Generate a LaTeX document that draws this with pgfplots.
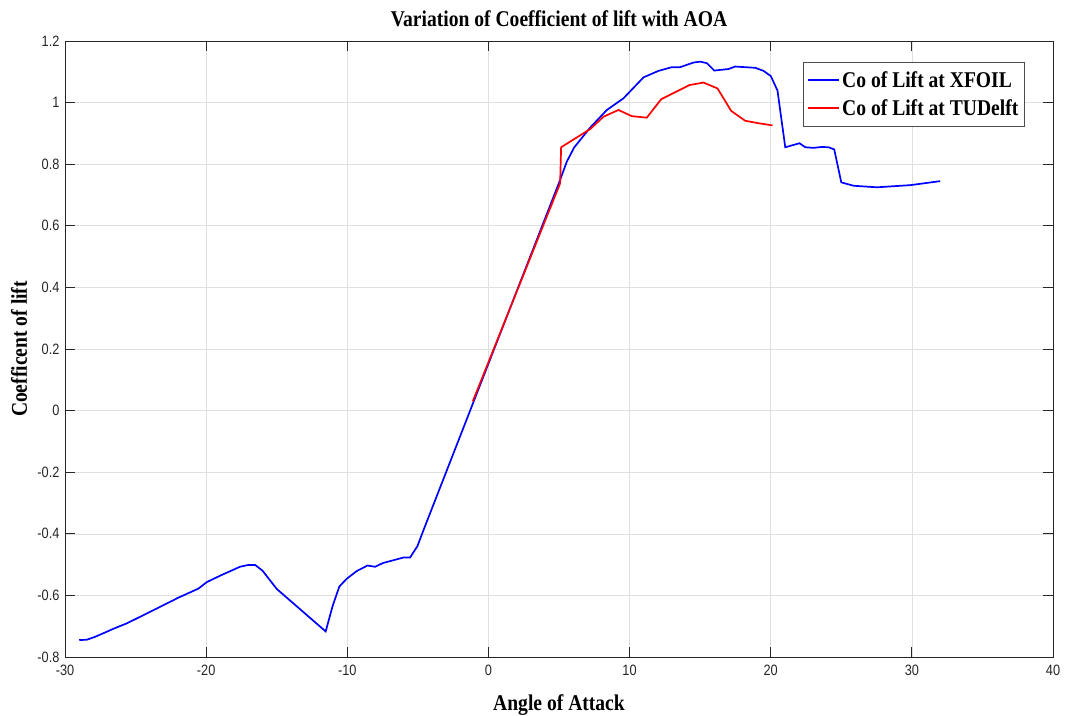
\documentclass[border=0pt]{standalone}
\usepackage{fontspec}
\setmainfont{Liberation Serif}[FakeStretch=0.87]
\newfontfamily\tickfont{Liberation Sans}[FakeStretch=0.85]
\usepackage{pgfplots}
\pgfplotsset{compat=1.18}
\definecolor{axgray}{RGB}{38,38,38}
\definecolor{gridgray}{RGB}{223,223,223}
\begin{document}
\begin{tikzpicture}
\begin{axis}[
    at={(0pt,0pt)}, anchor=south west,
    scale only axis,
    width=988pt, height=616pt,
    xmin=-30, xmax=40, ymin=-0.8, ymax=1.2,
    xtick={-30,-20,...,40},
    ytick={-0.8,-0.6,-0.4,-0.2,0,0.2,0.4,0.6,0.8,1,1.2},
    grid=major,
    major grid style={line width=0.6pt, draw=gridgray},
    axis line style={line width=0.8pt, draw=axgray},
    tick style={line width=0.8pt, draw=axgray},
    major tick length=10pt,
    tick align=inside, tick pos=both,
    /pgf/number format/assume math mode=true,
    tick label style={font=\fontsize{15}{15}\selectfont\tickfont, text=axgray},
    xticklabel style={yshift=-4pt},
    yticklabel style={xshift=-2pt},
    title={Variation of Coefficient of lift with AOA},
    title style={font=\fontsize{22.5}{27}\selectfont\bfseries, at={(axis description cs:0.5,1)}, anchor=base, yshift=8pt, inner sep=0pt},
    xlabel={Angle of Attack},
    xlabel style={font=\fontsize{22.5}{27}\selectfont\bfseries, at={(axis description cs:0.5,0)}, anchor=base, yshift=-53pt, inner sep=0pt},
    ylabel={Coefficent of lift},
    ylabel style={font=\fontsize{22.5}{27}\selectfont\bfseries, at={(axis description cs:0,0.5)}, anchor=base, yshift=38pt, inner sep=0pt},
    legend style={at={(rel axis cs:0.747,0.966)}, anchor=north west,
        font=\fontsize{22.5}{25}\selectfont\bfseries, draw=black!70, line width=0.8pt,
        inner xsep=4pt, inner ysep=7pt, row sep=7pt},
    legend cell align=left,
    legend image code/.code={\draw[#1, line width=1.8pt] (0pt,0pt) -- (31pt,0pt);},
]
% XFOIL
\addplot[blue, line width=1.7pt] coordinates {
(-28.99,-0.745) (-28.46,-0.744) (-27.9,-0.735) (-27.29,-0.723) (-26.5,-0.707)
(-25.63,-0.691) (-24,-0.654) (-22,-0.608) (-20.55,-0.578) (-19.96,-0.557)
(-19.01,-0.536) (-17.6,-0.507) (-17.0,-0.501) (-16.53,-0.501) (-16.0,-0.52)
(-15.0,-0.579) (-11.53,-0.717) (-11.03,-0.633) (-10.56,-0.571) (-10.04,-0.546)
(-9.33,-0.521) (-8.57,-0.503) (-8.03,-0.507) (-7.48,-0.495) (-6.02,-0.477)
(-5.55,-0.477) (-5.03,-0.44) (-4.6,-0.388) (5.08,0.749) (5.55,0.808)
(6.07,0.854) (7.21,0.919) (8.39,0.976) (9.57,1.014) (10.99,1.082)
(12.05,1.103) (12.99,1.115) (13.58,1.115) (14.53,1.13) (15.0,1.133)
(15.48,1.128) (16.0,1.104) (17.01,1.109) (17.48,1.117) (18.9,1.113)
(19.49,1.103) (20.01,1.086) (20.48,1.039) (21.03,0.855) (22.04,0.868)
(22.45,0.855) (23.03,0.853) (23.63,0.856) (24.1,0.855) (24.5,0.848)
(25.0,0.741) (25.87,0.730) (27.53,0.725) (29.89,0.732) (32.01,0.745)
};
% TUDelft
\addplot[red, line width=1.7pt] coordinates {
(-1.11,0.030) (5.08,0.738) (5.15,0.855) (7.21,0.914) (8.15,0.954)
(9.21,0.976) (10.16,0.956) (11.22,0.951) (12.24,1.011) (14.25,1.057)
(15.24,1.065) (16.23,1.046) (17.2,0.973) (18.19,0.941) (19.14,0.933)
(20.13,0.926)
};
\legend{Co of Lift at XFOIL, Co of Lift at TUDelft}
\end{axis}
\pgfresetboundingbox
\path[use as bounding box] (-65pt,-58pt) rectangle (1000pt,657pt);
\end{tikzpicture}
\end{document}
